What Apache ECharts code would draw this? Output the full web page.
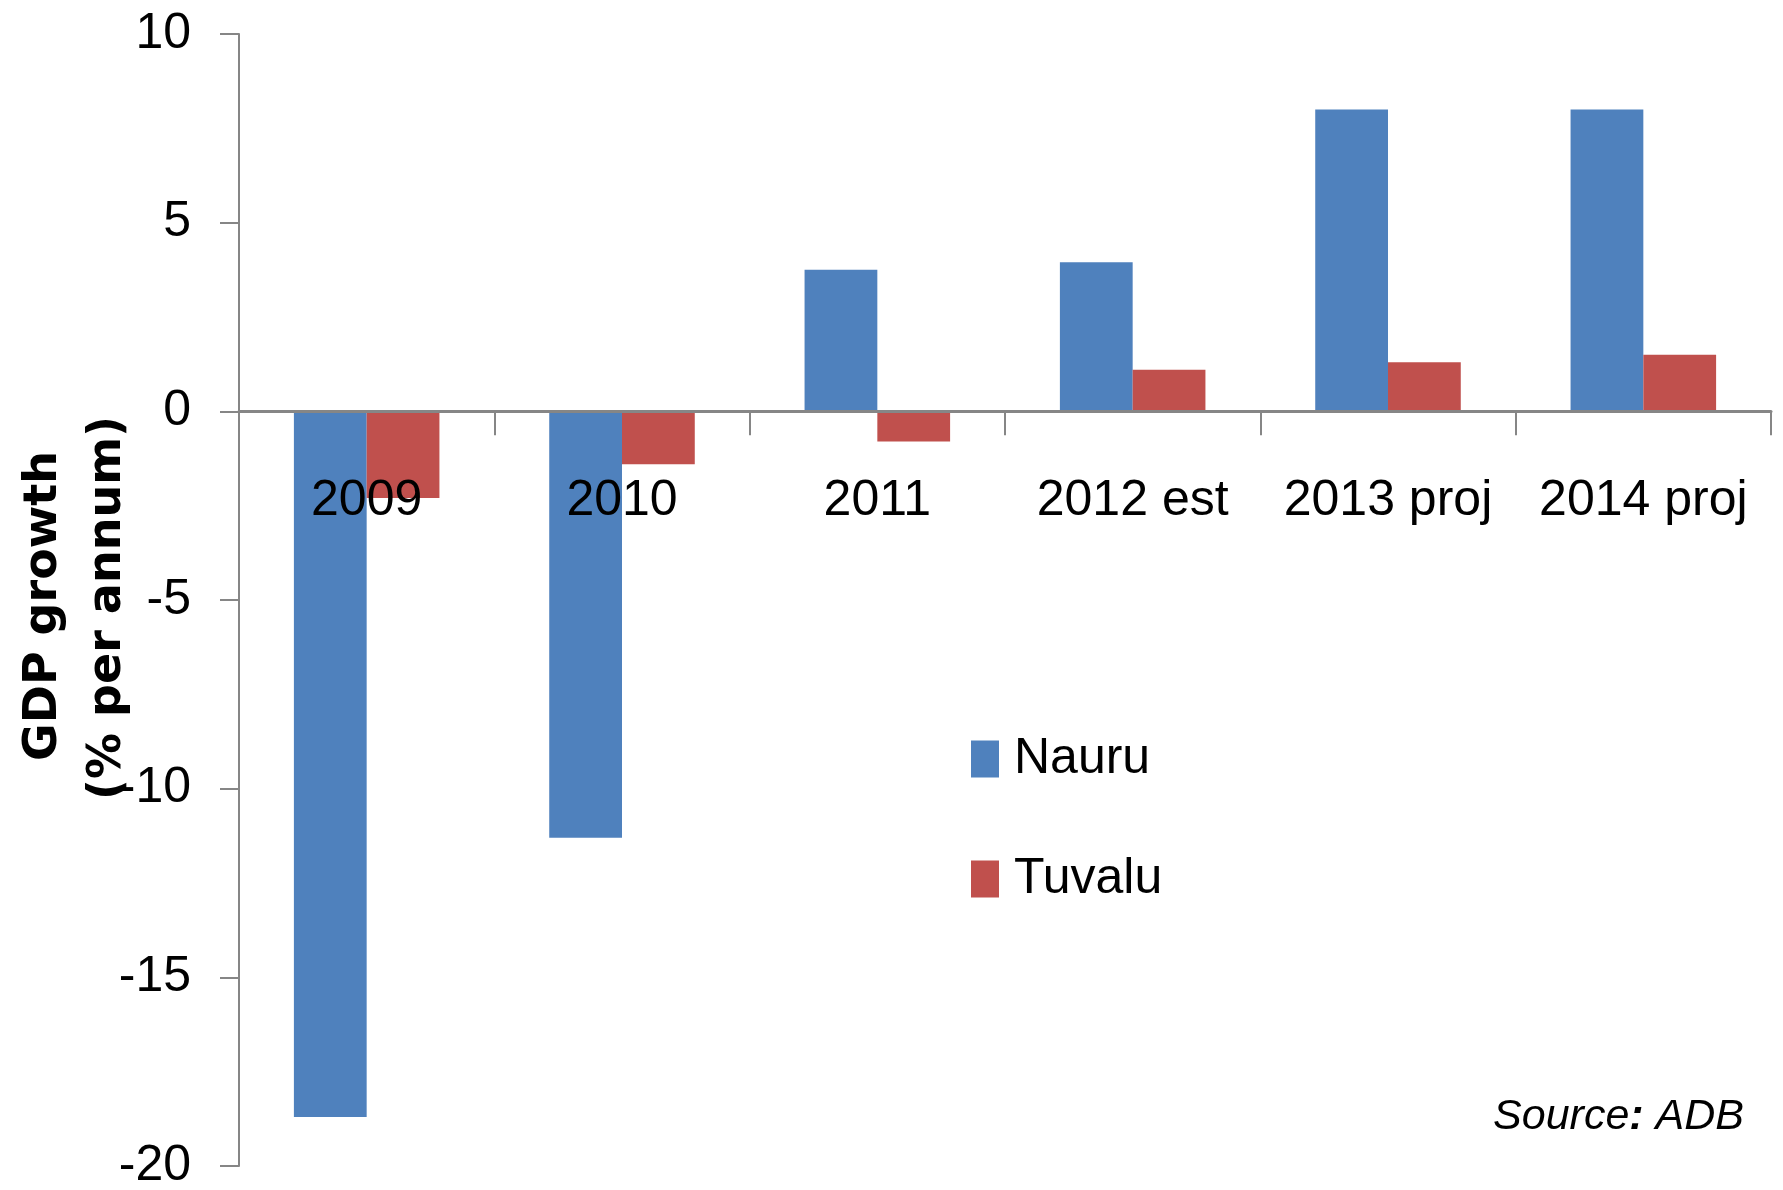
<!DOCTYPE html>
<html>
<head>
<meta charset="utf-8">
<script src="https://cdn.jsdelivr.net/npm/echarts@6/dist/echarts.min.js"></script>
<style>
  html, body { margin: 0; padding: 0; background: #ffffff; }
  #chart { width: 1783px; height: 1190px; }
</style>
</head>
<body>
<div id="chart"></div>
<script>
const categories = ['2009', '2010', '2011', '2012 est', '2013 proj', '2014 proj'];
const nauru = [-18.7, -11.3, 3.75, 3.95, 8.0, 8.0];
const tuvalu = [-2.3, -1.4, -0.8, 1.1, 1.3, 1.5];
const seriesNames = ['Nauru', 'Tuvalu'];
const yTicks = { min: -20, max: 10, interval: 5 };
const yTitleLines = ['GDP growth', '(% per annum)'];
const sourceText = ['Source', ':', ' ADB'];

const FONT = "'Liberation Sans', 'DejaVu Sans Condensed', sans-serif";
const AXIS_GREY = '#868686';

const GRID_TOP = 34, GRID_BOTTOM = 24, H = 1190;
const gridHeight = H - GRID_TOP - GRID_BOTTOM;
// pixel position of zero on the value axis, used to lift the category axis onto it
const zeroFromBottom = gridHeight * (0 - yTicks.min) / (yTicks.max - yTicks.min);

const chart = echarts.init(document.getElementById('chart'), null, { renderer: 'canvas' });

const option = {
  animation: false,
  backgroundColor: '#ffffff',
  grid: { left: 239, right: 12, top: GRID_TOP, bottom: GRID_BOTTOM, containLabel: false, outerBoundsMode: 'none' },
  legend: {
    orient: 'vertical',
    left: 966,
    top: 724,
    padding: 5,
    itemWidth: 28,
    itemHeight: 37,
    itemGap: 60,
    icon: 'rect',
    data: seriesNames,
    textStyle: {
      fontFamily: FONT,
      fontSize: 50,
      lineHeight: 60,
      color: '#000000',
      padding: [0, 0, 0, 10]
    }
  },
  xAxis: {
    type: 'category',
    data: categories,
    z: 5,
    offset: -zeroFromBottom,
    axisLine: { onZero: false, lineStyle: { color: AXIS_GREY, width: 3 } },
    axisTick: { show: true, alignWithLabel: false, length: 24, lineStyle: { color: AXIS_GREY, width: 2 } },
    axisLabel: {
      interval: 0,
      margin: 65,
      fontFamily: FONT,
      fontSize: 50,
      color: '#000000'
    },
    splitLine: { show: false }
  },
  yAxis: {
    type: 'value',
    min: yTicks.min,
    max: yTicks.max,
    interval: yTicks.interval,
    axisLine: { show: true, lineStyle: { color: AXIS_GREY, width: 2 } },
    axisTick: { show: true, inside: false, length: 19, lineStyle: { color: AXIS_GREY, width: 2 } },
    axisLabel: {
      margin: 48,
      fontFamily: FONT,
      fontSize: 50,
      color: '#000000'
    },
    splitLine: { show: false }
  },
  graphic: [
    {
      type: 'text',
      x: 44, y: 606,
      rotation: Math.PI / 2,
      style: {
        text: yTitleLines[0],
        font: "bold 46px 'DejaVu Sans', sans-serif",
        fill: '#000000',
        textAlign: 'center',
        textVerticalAlign: 'middle'
      }
    },
    {
      type: 'text',
      x: 108, y: 608,
      rotation: Math.PI / 2,
      style: {
        text: yTitleLines[1],
        font: "bold 46px 'DejaVu Sans', sans-serif",
        fill: '#000000',
        textAlign: 'center',
        textVerticalAlign: 'middle'
      }
    },
    {
      type: 'text',
      x: 1744, y: 1117,
      style: {
        text: '{i|' + sourceText[0] + '}{b|' + sourceText[1] + '}{i|' + sourceText[2] + '}',
        textAlign: 'right',
        textVerticalAlign: 'middle',
        rich: {
          i: { fontFamily: FONT, fontStyle: 'italic', fontSize: 43, color: '#000000' },
          b: { fontFamily: FONT, fontStyle: 'italic', fontWeight: 'bold', fontSize: 43, color: '#000000' }
        }
      }
    }
  ],
  series: [
    {
      name: seriesNames[0],
      type: 'bar',
      data: nauru,
      barGap: '0%',
      barCategoryGap: '43%',
      itemStyle: { color: '#4F81BD' }
    },
    {
      name: seriesNames[1],
      type: 'bar',
      data: tuvalu,
      barGap: '0%',
      barCategoryGap: '43%',
      itemStyle: { color: '#C0504D' }
    }
  ]
};

chart.setOption(option);
</script>
</body>
</html>
